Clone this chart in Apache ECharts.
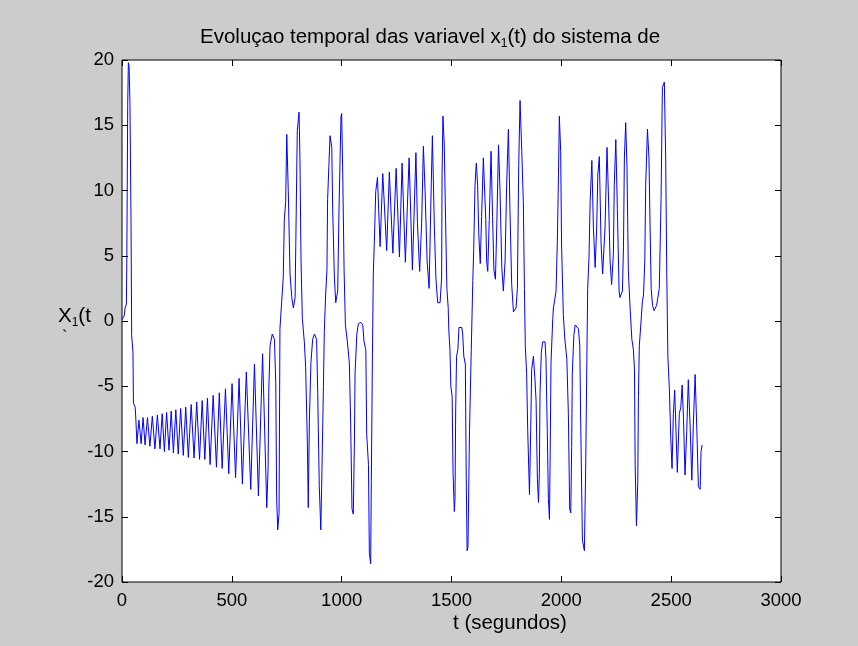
<!DOCTYPE html>
<html><head><meta charset="utf-8">
<script src="https://cdn.jsdelivr.net/npm/echarts@6/dist/echarts.min.js"></script>
<style>html,body{margin:0;padding:0;background:#cccccc}#c{width:858px;height:646px}</style>
</head><body><div id="c"></div>
<script>
// time (s) and x1(t) values
const tempo = [
0,10,14,20,22,26,29,32,36,41,44,50,52,60,63,68,
77,87,96,105,116,127,138,150,161,173,183,193,203,214,224,234,245,256,267,279,290,302,315,328,340,353,365,377,389,401,415,430,443,456,471,486,501,517,533,548,566,586,603,621,640,659,
665,668,674,684,694,700,704,709,715,719,727,734,739,745,750,754,757,765,773,780,788,791,798,806,810,815,821,830,836,844,848,853,860,868,876,886,891,898,905,909,917,921,927,933,936,947,955,959,967,973,982,988,997,
1000,1005,1011,1017,1026,1035,1041,1047,1053,1058,1061,1069,1076,1087,1096,1102,1110,1114,1122,1126,1132,1135,1140,1144,1149,1155,1163,1175,1187,1205,1217,1233,1248,1263,1275,1290,1307,1322,1338,1345,1355,1364,1372,1380,1389,1398,1408,1413,1422,1429,1437,1448,1455,1457,1461,1467,1473,1479,1485,1488,1493,1497,1503,1507,1513,1516,1519,1523,1529,1534,1547,1551,1556,1563,1567,1571,1575,1582,1590,1597,1601,1607,1613,1619,1624,1631,1637,1645,1650,1656,1660,1665,1672,1680,1687,1693,1700,1706,1714,1721,1729,1736,1744,1751,1759,1766,1774,1782,1794,1800,1806,1812,1820,1827,1832,1836,1842,1847,1855,1861,1865,1873,1880,1885,1891,1896,1900,1903,1909,1915,1926,1930,1936,1941,1946,1949,1953,1961,1964,1976,1982,1987,1991,1997,
2001,2009,2016,2025,2032,2038,2043,2047,2050,2057,2063,2071,2078,2084,2088,2096,2105,2111,2116,2120,2126,2131,2139,2146,2154,2161,2166,2173,2181,2188,2199,2208,2214,2222,2229,2237,2241,2248,2255,2263,2267,2278,2283,2287,2293,2299,2305,2313,2321,2328,2333,2336,2342,2348,2351,2355,2363,2369,2374,2380,2384,2392,2399,2404,2409,2415,2422,2434,2446,2454,2460,2469,2475,2480,2485,2492,2498,2504,2510,2516,2522,2528,2537,2544,2550,2556,2563,2571,2578,2586,2594,2601,2609,2617,2624,2632,2636,2641
];
const x1 = [
0.1,0.4,1.0,1.3,4.9,16.6,19.8,19.6,16.9,7.8,-1.1,-2.4,-6.3,-6.6,-7.5,-9.4,
-7.6,-9.4,-7.4,-9.5,-7.4,-9.6,-7.3,-9.8,-7.2,-9.8,-7.1,-10.0,-7.0,-9.9,-6.9,-10.1,-6.8,-10.2,-6.7,-10.3,-6.6,-10.45,-6.4,-10.5,-6.2,-10.6,-6.1,-10.6,-5.9,-11.0,-5.7,-11.2,-5.5,-11.3,-5.2,-11.7,-4.8,-12.0,-4.4,-12.5,-3.9,-12.9,-3.3,-13.4,-2.5,-14.3,
-11.3,-5.5,-1.9,-1.0,-1.4,-4.8,-13.6,-16.0,-14.7,-0.6,1.5,3.3,7.8,9.1,14.3,14.3,9.9,3.6,1.8,1.0,1.8,5.7,14.6,16.0,12.5,4.6,0.2,-1.6,-3.5,-9.5,-14.3,-7.6,-3.2,-1.4,-1.0,-1.4,-5.5,-12.6,-16.0,-12.6,-5.0,-0.8,2.0,3.9,9.3,14.2,13.3,8.6,3.3,1.4,2.3,8.6,15.7,
15.9,11.2,3.9,-0.3,-1.6,-3.2,-7.9,-14.4,-14.8,-9.2,-4.0,-1.0,-0.2,-0.1,-0.3,-1.6,-2.2,-8.7,-11.0,-17.8,-18.6,-12.3,-2.7,3.6,6.2,9.9,11.0,5.7,11.3,5.4,11.4,5.2,11.7,4.9,12.1,4.5,12.5,3.9,12.9,7.5,3.8,7.5,13.4,9.9,4.6,2.5,10.6,14.2,7.2,3.3,1.4,1.4,3.3,11.2,15.7,13.5,7.8,2.5,1.0,-0.8,-2.2,-5.0,-5.8,-11.6,-14.6,-13.6,-6.9,-2.7,-2.2,-0.5,-0.5,-1.0,-2.7,-3.3,-11.8,-17.6,-17.3,-8.4,-2.2,3.1,5.4,10.4,12.1,10.4,6.7,4.4,8.0,12.5,12.5,7.8,4.6,3.8,7.8,13.0,8.0,3.9,3.2,7.2,13.5,9.9,4.1,2.3,4.6,10.4,14.7,8.6,2.8,0.7,1.0,2.5,11.9,16.9,13.0,9.1,2.5,-1.9,-4.0,-8.4,-13.3,-7.9,-3.7,-2.7,-4.5,-6.1,-12.1,-13.9,-11.6,-5.5,-2.4,-1.6,-1.6,-2.9,-8.4,-13.6,-15.2,-10.5,-3.2,0.2,1.0,2.3,6.2,11.2,15.7,13.0,
5.9,0.5,-1.4,-2.9,-7.1,-14.4,-14.7,-9.7,-4.0,-1.1,-0.3,-0.3,-0.6,-1.9,-7.6,-16.8,-17.6,-11.1,-3.2,2.5,4.9,9.1,12.3,7.2,4.1,7.2,11.2,12.6,5.9,3.6,7.2,13.3,9.9,4.6,2.8,5.2,10.4,13.9,8.6,2.3,1.8,2.3,5.7,12.5,15.2,11.7,3.9,1.0,-1.4,-2.2,-3.7,-11.0,-15.7,-12.3,-5.8,-1.9,0.0,1.5,2.0,4.6,10.4,14.7,12.5,7.2,2.5,1.2,0.8,1.2,2.5,9.3,17.9,18.3,12.5,3.6,-2.7,-5.3,-8.9,-11.3,-7.1,-5.3,-8.4,-11.6,-7.1,-6.6,-4.9,-7.4,-11.8,-8.4,-4.5,-7.9,-12.2,-7.9,-4.1,-8.4,-12.7,-12.9,-10.0,-9.5
];
const xRange = [0, 3000, 500];
const yRange = [-20, 20, 5];

const FONT = 'Liberation Sans, Arial, sans-serif';
const chart = echarts.init(document.getElementById('c'), null, {renderer: 'canvas'});
const data = tempo.map((t, i) => [t, x1[i]]);
const tickStyle = {inside: true, length: 6, lineStyle: {color: '#000', width: 1}};
const plain = v => String(v);
function xAx(pos, lbl) {
  return {type: 'value', position: pos, min: xRange[0], max: xRange[1], interval: xRange[2],
    axisLine: {show: false, onZero: false}, axisTick: tickStyle, splitLine: {show: false},
    axisLabel: {show: lbl, color: '#000', fontSize: 18.5, fontFamily: FONT, margin: 9, formatter: plain}};
}
function yAx(pos, lbl) {
  return {type: 'value', position: pos, min: yRange[0], max: yRange[1], interval: yRange[2],
    axisLine: {show: false, onZero: false}, axisTick: tickStyle, splitLine: {show: false},
    axisLabel: {show: lbl, color: '#000', fontSize: 18.5, fontFamily: FONT, margin: 8, formatter: plain}};
}
chart.setOption({
  backgroundColor: '#cccccc',
  animation: false,
  grid: {left: 122, top: 60, width: 659, height: 522, show: true, backgroundColor: '#ffffff', borderColor: '#000', borderWidth: 1},
  xAxis: [xAx('bottom', true), xAx('top', false)],
  yAxis: [yAx('left', true), yAx('right', false)],
  series: [{type: 'line', data: data, symbol: 'none', showSymbol: false, smooth: false,
    lineStyle: {color: '#0000ff', width: 1}, xAxisIndex: 0, yAxisIndex: 0}],
  graphic: [
    {type: 'text', left: 200, top: 24, z: 10, style: {
      text: 'Evoluçao temporal das variavel x{s|1}(t) do sistema de',
      font: '20.5px ' + FONT, fill: '#000', lineHeight: 26,
      rich: {s: {fontSize: 12, fontFamily: FONT, verticalAlign: 'bottom', lineHeight: 13, fill: '#000'}}}},
    {type: 'text', left: 58, top: 303, z: 10, style: {
      text: 'X{s|1}(t', font: '20.5px ' + FONT, fill: '#000', lineHeight: 26,
      rich: {s: {fontSize: 12, fontFamily: FONT, verticalAlign: 'bottom', lineHeight: 13, fill: '#000'}}}},
    {type: 'text', left: 62, top: 330, z: 10, style: {text: '`', font: '16px ' + FONT, fill: '#000'}},
    {type: 'text', left: 453, top: 613, z: 10, style: {text: 't (segundos)', font: '20.5px ' + FONT, fill: '#000', textAlign: 'center'}}
  ]
});
</script></body></html>
